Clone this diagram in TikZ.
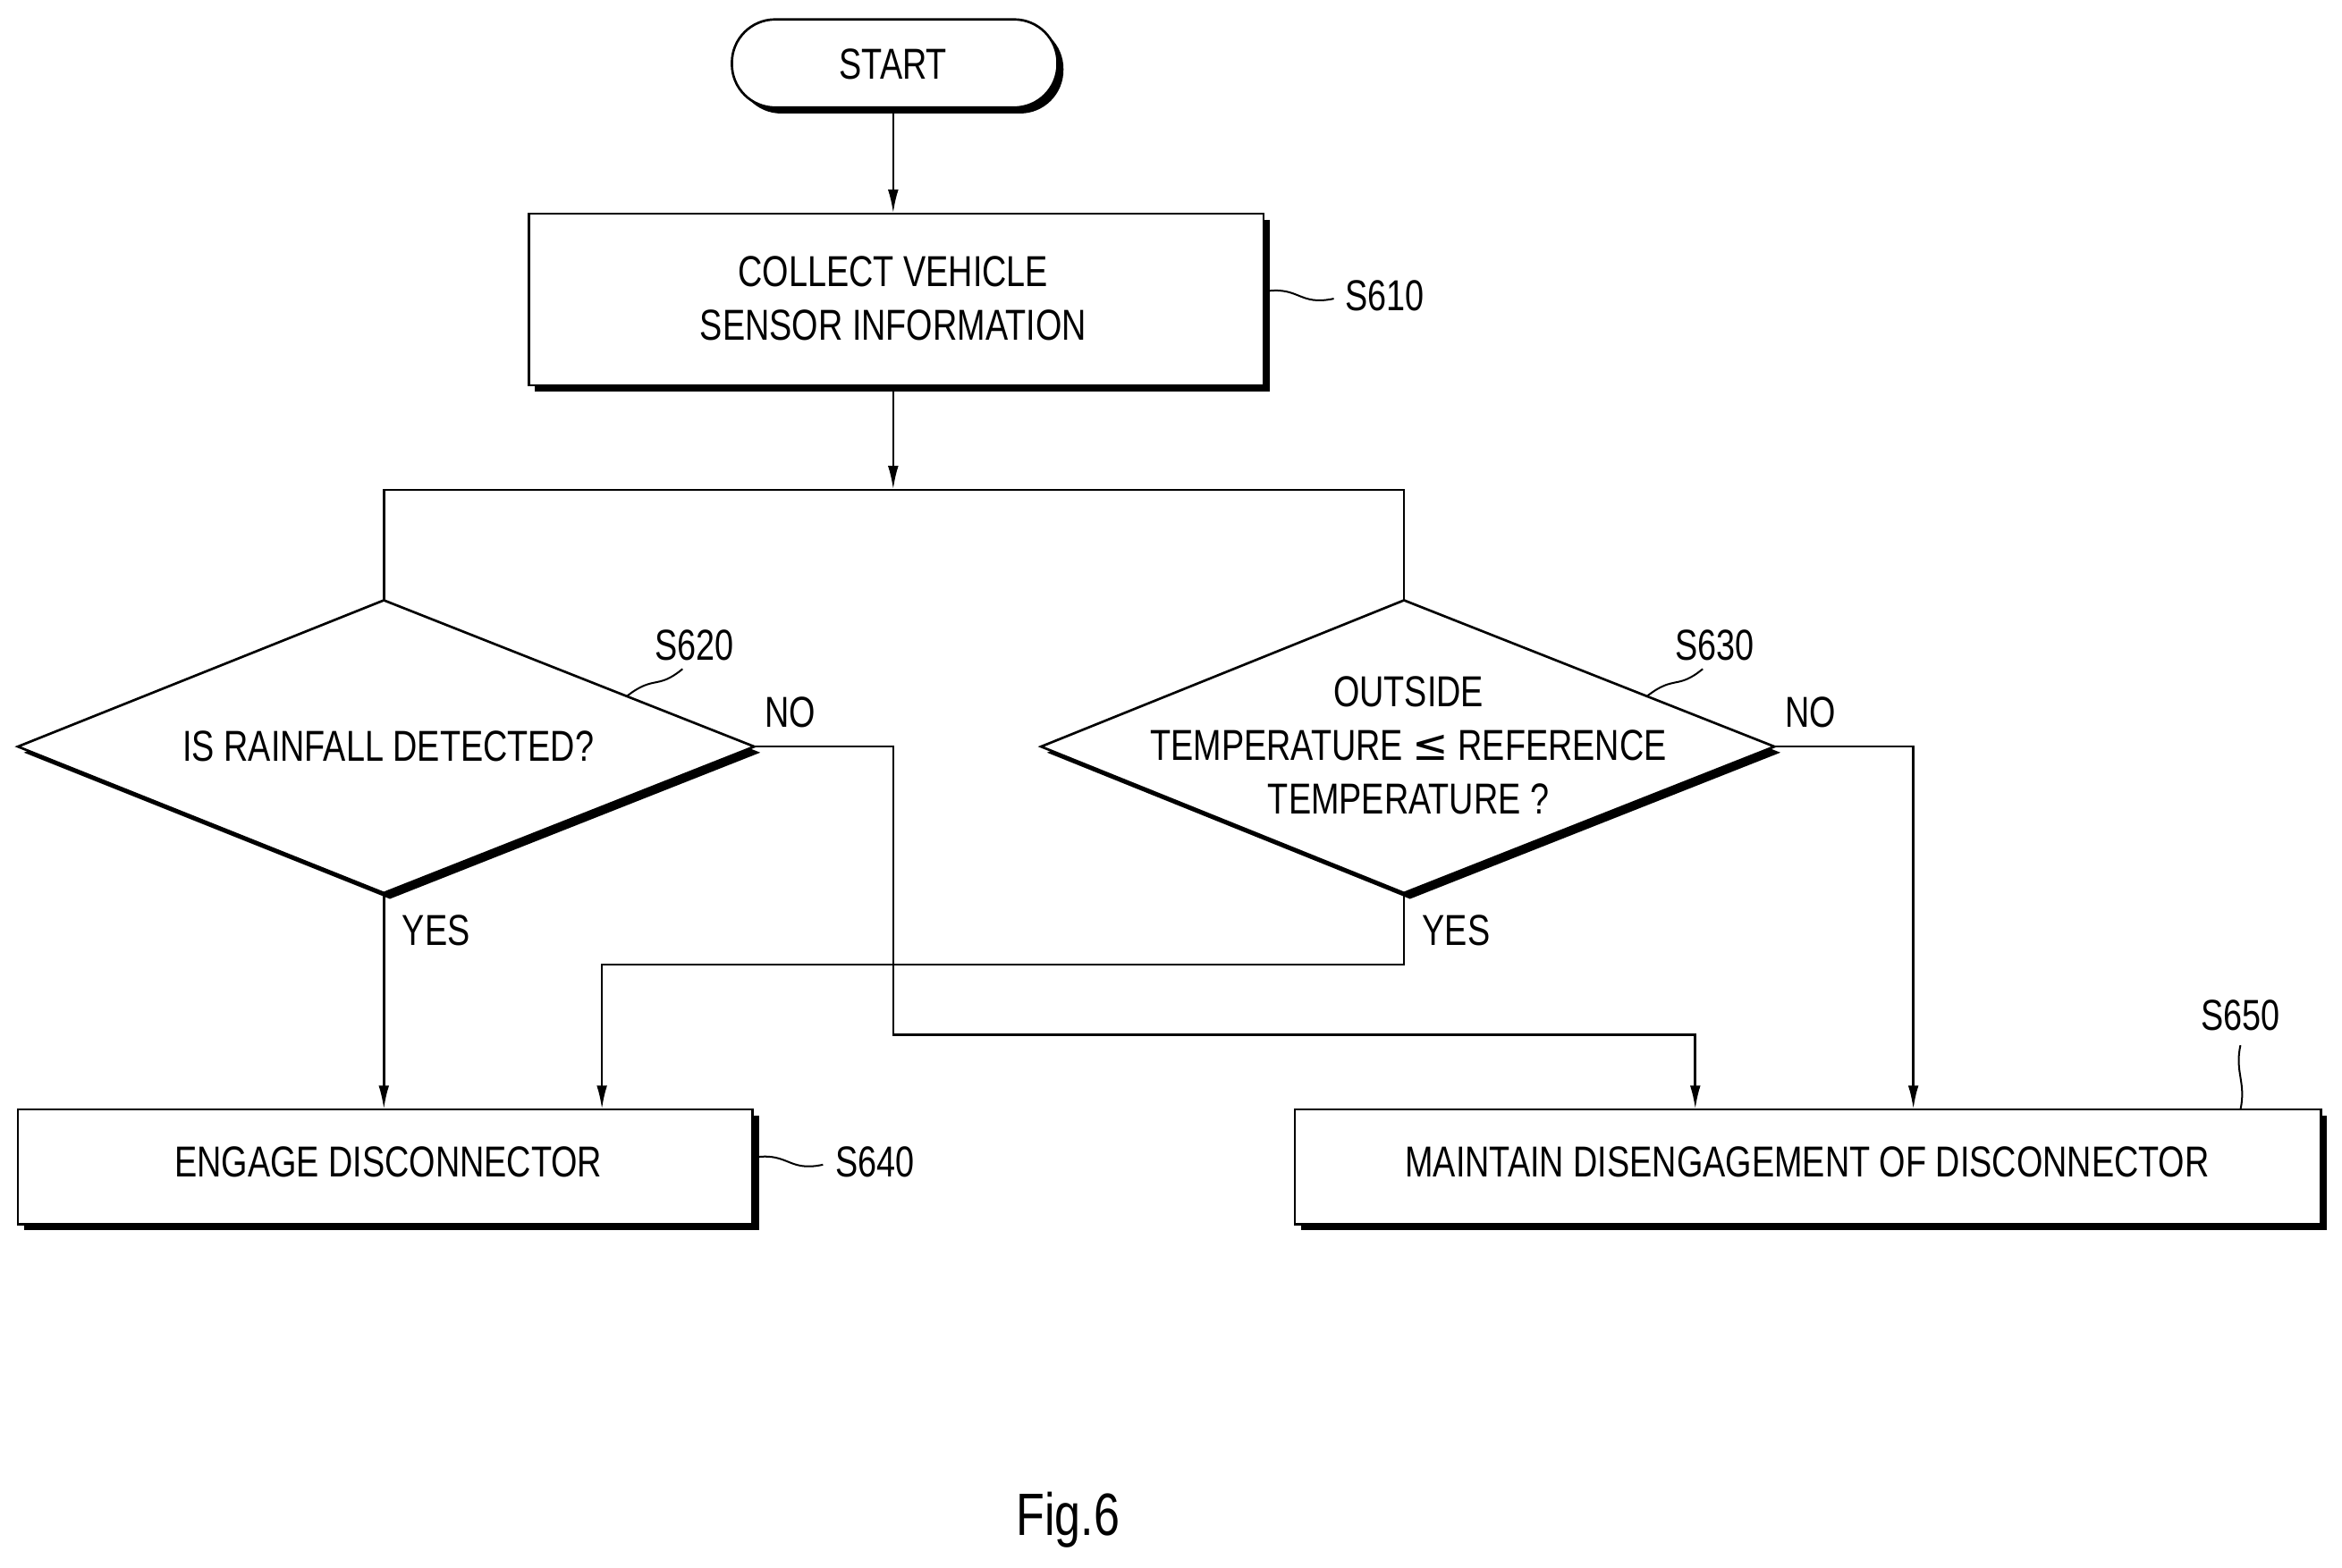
\documentclass[tikz,border=0pt]{standalone}
\usepackage{fontspec}
\usetikzlibrary{arrows.meta}
\setmainfont{Liberation Sans}[FakeStretch=0.78]
\newfontfamily\symf{DejaVu Sans}
\begin{document}
\begin{tikzpicture}[x=1pt,y=-1pt,line width=1.6pt,
  txt/.style={font=\fontsize{29}{36}\selectfont,align=center,inner sep=0pt},
  lab/.style={font=\fontsize{29}{36}\selectfont,inner sep=0pt},
  arr/.style={-{Latex[length=16pt,width=7pt]}},
  sq/.style={line width=1.2pt}]
\useasboundingbox (0,0) rectangle (1568,1050);
% START
\fill (494,17) [rounded corners=29pt] rectangle (712,76);
\filldraw[fill=white,rounded corners=29pt] (490,13) rectangle (708,72);
\node[txt] (start) at (598,43) {START};
% S610
\fill (358,147) rectangle (850,262);
\filldraw[fill=white] (354,143) rectangle (846,258);
\node[txt] (s610) at (598,200) {COLLECT VEHICLE\\SENSOR INFORMATION};
\coordinate (b610t) at (598,143); \coordinate (b610b) at (598,258);
\coordinate (split) at (598,328);
% diamonds
\fill (16,504) -- (261,406) -- (509,504) -- (261,602) -- cycle;
\filldraw[fill=white] (12,500) -- (257,402) -- (505,500) -- (257,598) -- cycle;
\node[txt] (d1) at (260,500) {IS RAINFALL DETECTED?};
\coordinate (d1t) at (257,402); \coordinate (d1r) at (505,500); \coordinate (d1b) at (257,598);
\fill (701,504) -- (944,406) -- (1192,504) -- (944,602) -- cycle;
\filldraw[fill=white] (697,500) -- (940,402) -- (1188,500) -- (940,598) -- cycle;
\node[txt] (d2) at (943,499) {OUTSIDE\\TEMPERATURE {\symf ≤} REFERENCE\\TEMPERATURE ?};
\coordinate (d2t) at (940,402); \coordinate (d2r) at (1188,500); \coordinate (d2b) at (940,598);
% bottom boxes
\fill (16,747) rectangle (508,824);
\filldraw[fill=white] (12,743) rectangle (504,820);
\node[txt] (s640) at (260,778) {ENGAGE DISCONNECTOR};
\fill (871,747) rectangle (1558,824);
\filldraw[fill=white] (867,743) rectangle (1554,820);
\node[txt] (s650) at (1210,778) {MAINTAIN DISENGAGEMENT OF DISCONNECTOR};
\coordinate (a1) at (257,743); \coordinate (a2) at (403,743);
\coordinate (a3) at (1135,743); \coordinate (a4) at (1281,743);
\coordinate (st) at (598,72);
% connectors
\draw[arr] (st) -- (b610t);
\draw[arr] (b610b) -- (split);
\draw (d1t) |- (split) -| (d2t);
\draw[arr] (d1b) -- (a1);
\draw[arr] (d2b) |- (403,646) -- (a2);
\draw[arr] (d1r) -| (598,693) -| (a3);
\draw[arr] (d2r) -| (a4);
% labels
\node[lab] (no1) at (529,477) {NO};
\node[lab] (no2) at (1212,477) {NO};
\node[lab] (yes1) at (292,623) {YES};
\node[lab] (yes2) at (975,623) {YES};
\node[lab] (l610) at (927,198) {S610};
\node[lab] (l620) at (465,432) {S620};
\node[lab] (l630) at (1148,432) {S630};
\node[lab] (l640) at (586,778) {S640};
\node[lab] (l650) at (1500,680) {S650};
\draw[sq] (848,195) .. controls (870,192) and (870,205) .. (893,200);
\draw[sq] (420,466) .. controls (438,452) and (440,462) .. (457,448);
\draw[sq] (1103,466) .. controls (1121,452) and (1123,462) .. (1140,448);
\draw[sq] (506,775) .. controls (528,772) and (528,785) .. (551,780);
\draw[sq] (1500,700) .. controls (1496,718) and (1504,725) .. (1500,743);
\node[font=\fontsize{40}{48}\selectfont] (fig) at (715,1018) {Fig.6};
\end{tikzpicture}
\end{document}
